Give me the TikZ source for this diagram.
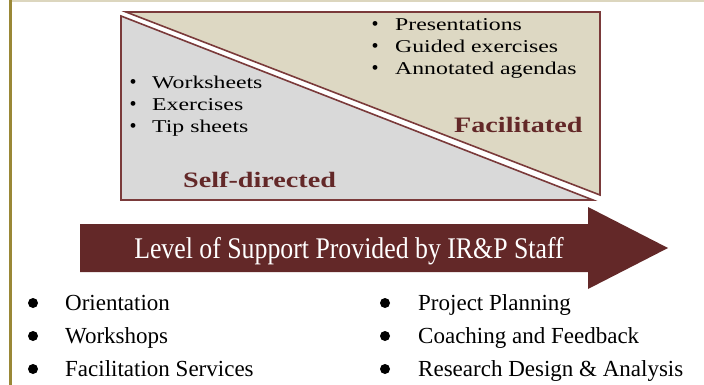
\documentclass[tikz,border=0pt]{standalone}
\usepackage{fontspec}
\setmainfont{Liberation Serif}
\newfontfamily\widefont[FakeStretch=1.32]{Liberation Serif}
\newfontfamily\boldwidefont[FakeStretch=1.28]{Liberation Serif}
\newfontfamily\narrowfont[FakeStretch=0.86]{Liberation Serif}
\definecolor{maroon}{HTML}{632828}
\definecolor{edgered}{HTML}{7A3A3A}
\definecolor{sand}{HTML}{DDD8C3}
\definecolor{lightgray}{HTML}{D9D9D9}
\definecolor{olive}{HTML}{9A8836}
\definecolor{topline}{HTML}{DCD6BE}
\tikzset{
  tri/.style={draw=edgered, line width=1.6pt, line join=miter},
  small/.style={anchor=base west, inner sep=0pt, font=\widefont\fontsize{18}{20}\selectfont},
  smallbul/.style={anchor=base, inner sep=0pt, font=\fontsize{20}{20}\selectfont},
  tag/.style={anchor=base west, inner sep=0pt, text=maroon, font=\boldwidefont\fontsize{22}{24}\selectfont\bfseries},
  big/.style={anchor=base west, inner sep=0pt, font=\fontsize{23}{25}\selectfont},
  bigbul/.style={circle, fill=black, inner sep=0pt, minimum size=10pt},
  banner/.style={anchor=base, inner sep=0pt, text=white, font=\narrowfont\fontsize{30}{32}\selectfont}
}
\begin{document}
\begin{tikzpicture}[x=1pt, y=-1pt]
\useasboundingbox (0,0) rectangle (704,385);
\fill[white] (0,0) rectangle (704,385);
% frame lines
\fill[topline] (11,0) rectangle (704,2);
\fill[olive] (9,0) rectangle (12,385);
% the two triangles
\path[tri, fill=sand] (126,12) -- (600,12) -- (600,195) -- cycle;
\path[tri, fill=lightgray] (121,16) -- (593,200) -- (121,200) -- cycle;
% self-directed list
\node[smallbul] (b1) at (133,89) {\textbullet};
\node[small] (w1) at (152,89) {Worksheets};
\node[smallbul] (b2) at (133,110.5) {\textbullet};
\node[small] (w2) at (152,110.5) {Exercises};
\node[smallbul] (b3) at (133,132) {\textbullet};
\node[small] (w3) at (152,132) {Tip sheets};
\node[tag] (self) at (183,187) {Self-directed};
% facilitated list
\node[smallbul] (p1) at (375,31) {\textbullet};
\node[small] (f1) at (395,31) {Presentations};
\node[smallbul] (p2) at (375,53) {\textbullet};
\node[small] (f2) at (395,53) {Guided exercises};
\node[smallbul] (p3) at (375,75) {\textbullet};
\node[small] (f3) at (395,75) {Annotated agendas};
\node[tag] (facil) at (454,133) {Facilitated};
% support arrow
\fill[maroon] (80,224) -- (588,224) -- (588,207) -- (668,248) -- (588,289)
  -- (588,272) -- (80,272) -- cycle;
\node[banner] (level) at (349,258) {Level of Support Provided by IR\&P Staff};
% service lists
\node[bigbul] (l1) at (33,303) {};
\node[big] (o1) at (65,310) {Orientation};
\node[bigbul] (l2) at (33,336) {};
\node[big] (o2) at (65,343) {Workshops};
\node[bigbul] (l3) at (33,369) {};
\node[big] (o3) at (65,376) {Facilitation Services};
\node[bigbul] (r1) at (385,303) {};
\node[big] (s1) at (418,310) {Project Planning};
\node[bigbul] (r2) at (385,336) {};
\node[big] (s2) at (418,343) {Coaching and Feedback};
\node[bigbul] (r3) at (385,369) {};
\node[big] (s3) at (418,376) {Research Design \& Analysis};
\end{tikzpicture}
\end{document}
